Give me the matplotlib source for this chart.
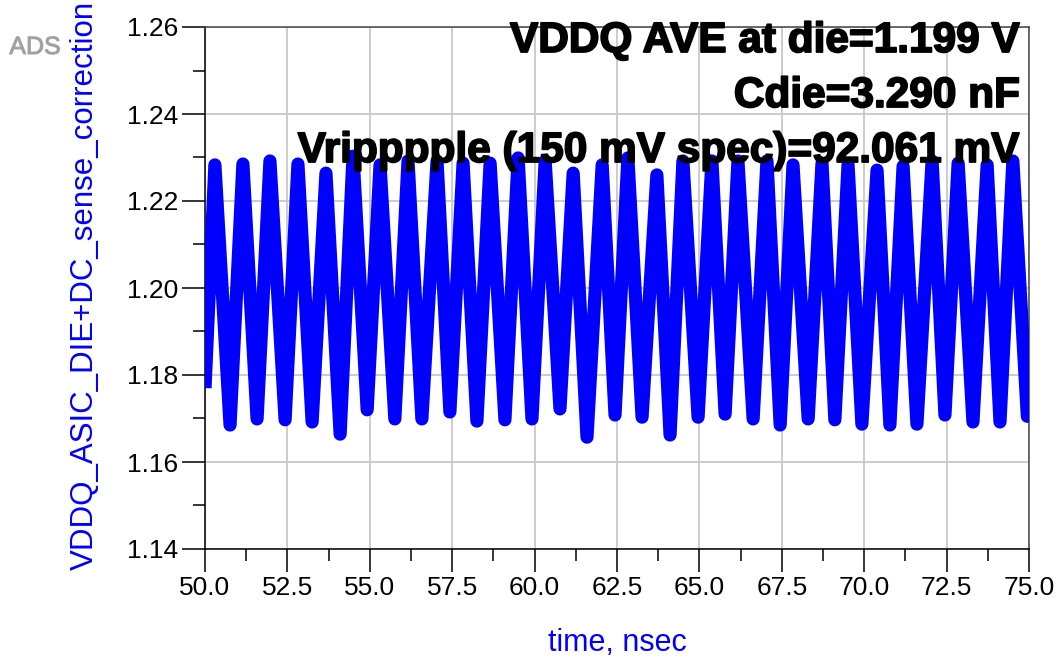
import matplotlib
matplotlib.use("Agg")
import matplotlib.pyplot as plt
import matplotlib.patheffects as pe
from matplotlib.ticker import MultipleLocator, FormatStrFormatter
from matplotlib import font_manager

# ---- data (time in ns, voltage in V) ----
start_t = [50.0]
start_v = [1.177]
peak_t = [50.30, 51.15, 51.97, 52.82, 53.67, 54.49, 55.31, 56.16, 57.04, 57.83,
          58.65, 59.50, 60.32, 61.17, 62.05, 62.83, 63.71, 64.50, 65.38, 66.17,
          67.05, 67.84, 68.72, 69.51, 70.39, 71.18, 72.06, 72.85, 73.73, 74.51]
peak_v = [1.2283, 1.2285, 1.2292, 1.2285, 1.2264, 1.2303, 1.2283, 1.2292, 1.2292, 1.2287,
          1.2287, 1.2299, 1.2292, 1.2264, 1.2283, 1.2299, 1.2260, 1.2292, 1.2292, 1.2292,
          1.2292, 1.2283, 1.2287, 1.2283, 1.2271, 1.2280, 1.2292, 1.2287, 1.2283, 1.2292]
trough_t = [50.76, 51.58, 52.43, 53.25, 54.10, 54.92, 55.76, 56.58, 57.43, 58.25,
            59.10, 59.92, 60.77, 61.59, 62.44, 63.26, 64.11, 64.96, 65.78, 66.63,
            67.45, 68.30, 69.11, 69.93, 70.78, 71.60, 72.45, 73.30, 74.12, 74.95]
trough_v = [1.1685, 1.1699, 1.1697, 1.1692, 1.1664, 1.1720, 1.1699, 1.1699, 1.1715, 1.1694,
            1.1697, 1.1699, 1.1722, 1.1657, 1.1708, 1.1703, 1.1662, 1.1703, 1.1710, 1.1699,
            1.1685, 1.1699, 1.1697, 1.1687, 1.1685, 1.1687, 1.1708, 1.1692, 1.1692, 1.1705]
end_t = [75.0]
end_v = [1.172]

x_ticks = [50.0, 52.5, 55.0, 57.5, 60.0, 62.5, 65.0, 67.5, 70.0, 72.5, 75.0]
y_ticks = [1.14, 1.16, 1.18, 1.20, 1.22, 1.24, 1.26]

annotations = ["VDDQ AVE at die=1.199 V", "Cdie=3.290 nF",
               "Vripppple (150 mV spec)=92.061 mV"]
y_label = "VDDQ_ASIC_DIE+DC_sense_correction"
x_label = "time, nsec"

# ---- build the series (merge the read extremes in time order) ----
pts = sorted(zip(start_t + peak_t + trough_t + end_t,
                 start_v + peak_v + trough_v + end_v))
t = [p[0] for p in pts]
v = [p[1] for p in pts]

names = {f.name for f in font_manager.fontManager.ttflist}
narrow = "Liberation Sans Narrow" if "Liberation Sans Narrow" in names else "Liberation Sans"
plt.rcParams['font.family'] = ['Liberation Sans', 'DejaVu Sans']

W, H = 1058, 661
fig = plt.figure(figsize=(W / 100, H / 100), dpi=100)
ax = fig.add_axes([205 / W, 1 - 549 / H, (1029 - 205) / W, (549 - 27) / H])

ax.plot(t, v, color="#0000ff", lw=9.5, solid_joinstyle="round",
        solid_capstyle="butt", zorder=3)

ax.set_xlim(50, 75)
ax.set_ylim(1.14, 1.26)
ax.set_xticks(x_ticks)
ax.set_yticks(y_ticks)
ax.xaxis.set_minor_locator(MultipleLocator(1.25))
ax.yaxis.set_minor_locator(MultipleLocator(0.01))
ax.xaxis.set_major_formatter(FormatStrFormatter("%.1f"))
ax.yaxis.set_major_formatter(FormatStrFormatter("%.2f"))
ax.grid(True, which="major", color="#c8c8c8", lw=1.3, zorder=0)
ax.set_axisbelow(True)

ax.tick_params(which="major", direction="out", length=16.5, width=1.1,
               color="black", pad=3, labelsize=19)
ax.tick_params(which="minor", direction="out", length=8.5, width=1.1, color="black")
for lab in ax.get_xticklabels() + ax.get_yticklabels():
    lab.set_fontfamily([narrow, 'DejaVu Sans'])
    lab.set_color("black")

for s in ax.spines.values():
    s.set_color("black")
    s.set_linewidth(1.1)
ax.spines["top"].set_color("#444444")
ax.spines["right"].set_color("#444444")

# annotation text block
ys = [52, 107, 162]
for txt, yy in zip(annotations, ys):
    fig.text(1020 / W, 1 - yy / H, txt, ha="right", va="baseline",
             fontsize=30.5, fontweight="bold", color="black", zorder=5,
             path_effects=[pe.withStroke(linewidth=1.3, foreground="black")])

fig.text(85 / W, 1 - 285 / H, y_label, rotation=90, ha="center", va="center",
         fontsize=22.5, color="#0000ff")
fig.text(617 / W, 1 - 643 / H, x_label, ha="center", va="center",
         fontsize=22, color="#0000ff", fontfamily=[narrow, 'DejaVu Sans'])
fig.text(35 / W, 1 - 47 / H, "ADS", ha="center", va="center",
         fontsize=18, color="#a0a0a0", fontfamily=[narrow, 'DejaVu Sans'],
         path_effects=[pe.withStroke(linewidth=0.8, foreground="#b0b0b0")])

fig.savefig("out.png", dpi=100)
